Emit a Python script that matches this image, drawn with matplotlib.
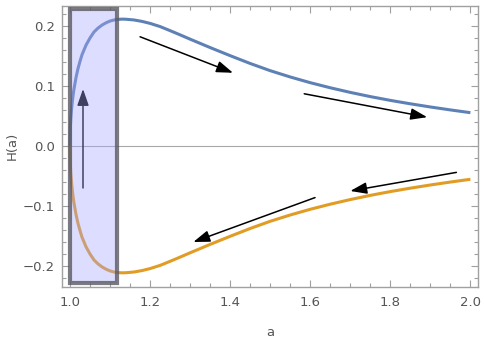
import matplotlib
matplotlib.use("Agg")
import matplotlib.pyplot as plt
from matplotlib.patches import Rectangle, FancyArrowPatch
from matplotlib.ticker import MultipleLocator, FormatStrFormatter, FuncFormatter

# values
a_vals = [1.0, 1.001, 1.002, 1.004, 1.006, 1.008, 1.01, 1.015, 1.02, 1.025, 1.03, 1.04,
          1.05, 1.06, 1.07, 1.08, 1.09, 1.1, 1.11, 1.12, 1.13, 1.14, 1.16, 1.18,
          1.2, 1.225, 1.25, 1.275, 1.3, 1.35, 1.4, 1.45, 1.5, 1.55, 1.6, 1.65,
          1.7, 1.75, 1.8, 1.85, 1.9, 1.95, 2.0]
h_vals = [0.0, 0.032, 0.045, 0.062, 0.075, 0.086, 0.095, 0.114, 0.129, 0.141, 0.152, 0.168,
          0.180, 0.190, 0.1965, 0.2015, 0.2053, 0.2082, 0.2100, 0.2110, 0.2114, 0.2112, 0.2100, 0.2076,
          0.2043, 0.1990, 0.1922, 0.1852, 0.1780, 0.1640, 0.1505, 0.1375, 0.1255, 0.1150, 0.1055, 0.0970,
          0.0893, 0.0823, 0.0760, 0.0703, 0.0650, 0.0601, 0.0555]
h_neg = [-h for h in h_vals]

# highlighted region (a from 1 to ~1.118)
box_a = (1.0, 1.118)
box_h = (-0.228, 0.228)

# arrows: (tail a, tail H, head a, head H)
arrows = [
    (1.0325, -0.070, 1.0325, 0.095),
    (1.175, 0.182, 1.407, 0.122),
    (1.585, 0.087, 1.892, 0.048),
    (1.965, -0.044, 1.700, -0.075),
    (1.612, -0.086, 1.308, -0.160),
]

blue = "#5e81b5"
orange = "#e19c24"
frame_col = "#a0a0a0"
text_col = "#555555"

fig = plt.figure(figsize=(4.85, 3.46), dpi=100)
ax = fig.add_axes([0.1278, 0.1714, 0.8578, 0.8113])

ax.axhline(0, color="#a8a8a8", lw=0.8, zorder=1)
ax.plot(a_vals, h_vals, color=blue, lw=2.2, zorder=2, solid_capstyle="butt")
ax.plot(a_vals, h_neg, color=orange, lw=2.2, zorder=2, solid_capstyle="butt")

for x0, y0, x1, y1 in arrows:
    ax.add_patch(FancyArrowPatch((x0, y0), (x1, y1),
                                 arrowstyle="-|>,head_length=1.0,head_width=0.35",
                                 mutation_scale=10, color="black", lw=1.1,
                                 shrinkA=0, shrinkB=0, zorder=3))

ax.add_patch(Rectangle((box_a[0], box_h[0]), box_a[1] - box_a[0], box_h[1] - box_h[0],
                       facecolor=(0.65, 0.65, 1.0, 0.38),
                       edgecolor=(0.35, 0.35, 0.38, 0.8), lw=3.0, zorder=4))

ax.set_xlim(0.98, 2.019)
ax.set_ylim(-0.2345, 0.2333)

ax.xaxis.set_major_locator(MultipleLocator(0.2))
ax.xaxis.set_minor_locator(MultipleLocator(0.05))
ax.yaxis.set_major_locator(MultipleLocator(0.1))
ax.yaxis.set_minor_locator(MultipleLocator(0.02))
ax.xaxis.set_major_formatter(FormatStrFormatter("%.1f"))
ax.yaxis.set_major_formatter(FuncFormatter(
    lambda v, p: ("%.1f" % v).replace("-", "\u2212") if abs(v) > 1e-9 else "0.0"))

ax.tick_params(which="both", direction="in", top=True, right=True,
               color=frame_col, labelcolor=text_col, labelsize=9.5, width=0.8)
ax.tick_params(which="major", length=5, pad=5)
ax.tick_params(which="minor", length=2.8)
ax.tick_params(axis="x", labeltop=False, pad=7)
ax.tick_params(axis="y", labelright=False)

for s in ax.spines.values():
    s.set_color(frame_col)
    s.set_linewidth(1.0)

ax.set_xlabel("a", color=text_col, fontsize=9.5, labelpad=12)
ax.set_ylabel("H(a)", color=text_col, fontsize=9.5, labelpad=3)

fig.savefig("out.png", dpi=100)
